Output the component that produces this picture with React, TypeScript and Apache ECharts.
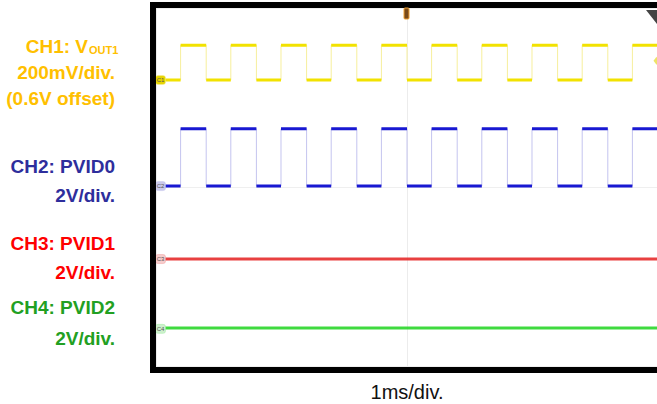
import React, { useEffect, useRef } from "react";
import * as echarts from "echarts";

// Horizontal: 10 divisions at 1 ms/div
const TIME_MIN = 0;
const TIME_MAX = 10;
const timeLabel = "1ms/div.";

// PVID0 toggle instants in ms (signal starts low); VOUT1 follows the same edges
const pvid0Edges = [
  0.49, 1.0, 1.49, 2.0, 2.49, 3.0, 3.49, 4.0, 4.49, 5.0,
  5.49, 6.0, 6.49, 7.0, 7.49, 8.0, 8.49, 9.0, 9.49,
];

// Levels (V): [low, high]
const ch1Levels = [0.6, 0.756];
const ch2Levels = [0, 2.56];
const ch3Level = 0;
const ch4Level = 0.04;
const ch1TriggerLevel = 0.686;

// Per-channel vertical settings (8 divisions on screen)
const voltsPerDiv = [0.2, 2, 2, 2];
const refPositionDiv = [6.39, 4.02, 2.39, 0.83]; // marker height above bottom, in divisions
const refVolts = [0.6, 0, 0, 0]; // CH1 carries a 0.6 V offset
const markerNames = ["C1", "C2", "C3", "C4"];

const labelTitles = ["CH1: V", "CH2: PVID0", "CH3: PVID1", "CH4: PVID2"];
const labelScales = ["200mV/div.", "2V/div.", "2V/div.", "2V/div."];

const traceColors = ["#f2e200", "#1818d2", "#e62b2b", "#2ad62a"];
const edgeColors = ["#f7ef9c", "#c4c4ef", "#f3a0a0", "#a0eca0"];
const labelColors = ["#ffc000", "#2e2e9c", "#ff0000", "#22a022"];
const markerFills = ["#e6d400", "#c9c9ec", "#f6cccc", "#cdf0cd"];

const FONT = "'Liberation Sans', Arial, sans-serif";

type Pt = [number, number] | null;

function stepPoints(edges: number[], lo: number, hi: number): Pt[] {
  const pts: Pt[] = [[TIME_MIN, lo]];
  let v = lo;
  for (const t of edges) {
    pts.push([t, v]);
    v = v === lo ? hi : lo;
    pts.push([t, v]);
  }
  pts.push([TIME_MAX, v]);
  return pts;
}

function plateaus(edges: number[], lo: number, hi: number): Pt[] {
  const pts: Pt[] = [];
  let v = lo;
  let start = TIME_MIN;
  for (const t of edges) {
    pts.push([start, v], [t, v], null);
    v = v === lo ? hi : lo;
    start = t;
  }
  pts.push([start, v], [TIME_MAX, v]);
  return pts;
}

function channelAxis(i: number) {
  const min = refVolts[i] - refPositionDiv[i] * voltsPerDiv[i];
  const max = refVolts[i] + (8 - refPositionDiv[i]) * voltsPerDiv[i];
  return {
    type: "value",
    min,
    max,
    show: false,
    splitLine: { show: false },
  };
}

function marker(i: number) {
  return {
    silent: true,
    symbol: "roundRect",
    symbolSize: [10, 9],
    itemStyle: { color: markerFills[i], borderColor: edgeColors[i], borderWidth: 0.5 },
    label: {
      show: true,
      position: "inside",
      formatter: markerNames[i],
      fontSize: 6,
      color: "#555",
      fontFamily: FONT,
    },
    data: [{ coord: [0.09, refVolts[i]] }],
  };
}

export default function App() {
  const ref = useRef<HTMLDivElement>(null);

  useEffect(() => {
    if (!ref.current) return;
    const chart = echarts.init(ref.current, undefined, { renderer: "svg" });

    const levels: [number, number][] = [
      [ch1Levels[0], ch1Levels[1]],
      [ch2Levels[0], ch2Levels[1]],
    ];

    const series: any[] = [];
    // Switching channels: faint fast edges plus bold settled levels
    levels.forEach(([lo, hi], i) => {
      series.push({
        type: "line",
        xAxisIndex: 0,
        yAxisIndex: i + 1,
        data: stepPoints(pvid0Edges, lo, hi),
        showSymbol: false,
        silent: true,
        lineStyle: { color: edgeColors[i], width: 1 },
        z: 2,
      });
      series.push({
        type: "line",
        xAxisIndex: 0,
        yAxisIndex: i + 1,
        data: plateaus(pvid0Edges, lo, hi),
        connectNulls: false,
        showSymbol: false,
        silent: true,
        lineStyle: { color: traceColors[i], width: 3 },
        markPoint: marker(i),
        z: 3,
      });
    });
    // Static channels
    [ch3Level, ch4Level].forEach((v, k) => {
      const i = k + 2;
      series.push({
        type: "line",
        xAxisIndex: 0,
        yAxisIndex: i + 1,
        data: [
          [TIME_MIN, v],
          [TIME_MAX, v],
        ],
        showSymbol: false,
        silent: true,
        lineStyle: { color: traceColors[i], width: 3, opacity: 0.9 },
        markPoint: marker(i),
        z: 3,
      });
    });
    // Trigger level indicator on the right edge (CH1)
    series.push({
      type: "scatter",
      xAxisIndex: 0,
      yAxisIndex: 1,
      data: [[9.97, ch1TriggerLevel]],
      symbol: "diamond",
      symbolSize: [6, 8],
      itemStyle: { color: "#e8dc40" },
      silent: true,
      z: 4,
    });

    const labelGraphics: any[] = [];
    const titleY = [46, 166, 243, 307];
    const scaleY = [72, 195, 272, 338];
    labelTitles.forEach((t, i) => {
      labelGraphics.push({
        type: "text",
        x: i === 0 ? 88 : 115,
        y: titleY[i],
        style: {
          text: t,
          align: "right",
          verticalAlign: "middle",
          fill: labelColors[i],
          font: `bold 19px ${FONT}`,
        },
      });
      labelGraphics.push({
        type: "text",
        x: 115,
        y: scaleY[i],
        style: {
          text: labelScales[i],
          align: "right",
          verticalAlign: "middle",
          fill: labelColors[i],
          font: `bold 19px ${FONT}`,
        },
      });
    });
    // subscript of VOUT1
    labelGraphics.push({
      type: "text",
      x: 89,
      y: 50,
      style: {
        text: "OUT1",
        align: "left",
        verticalAlign: "middle",
        fill: labelColors[0],
        font: `bold 11px ${FONT}`,
      },
    });
    labelGraphics.push({
      type: "text",
      x: 115,
      y: 98,
      style: {
        text: "(0.6V offset)",
        align: "right",
        verticalAlign: "middle",
        fill: labelColors[0],
        font: `bold 19px ${FONT}`,
      },
    });
    labelGraphics.push({
      type: "text",
      x: 407,
      y: 392,
      style: {
        text: timeLabel,
        align: "center",
        verticalAlign: "middle",
        fill: "#111",
        font: `20px ${FONT}`,
      },
    });

    chart.setOption({
      animation: false,
      backgroundColor: "#ffffff",
      grid: {
        left: 156,
        top: 8,
        width: 502,
        height: 358,
        containLabel: false,
        outerBoundsMode: "none",
      },
      xAxis: {
        type: "value",
        min: TIME_MIN,
        max: TIME_MAX,
        interval: 5,
        axisLine: { show: false },
        axisTick: { show: false },
        axisLabel: { show: false },
        splitLine: { show: true, lineStyle: { color: "#ececec", width: 1 } },
      },
      yAxis: [
        {
          type: "value",
          min: 0,
          max: 8,
          interval: 4,
          axisLine: { show: false },
          axisTick: { show: false },
          axisLabel: { show: false },
          splitLine: { show: true, lineStyle: { color: "#efefef", width: 1 } },
        },
        channelAxis(0),
        channelAxis(1),
        channelAxis(2),
        channelAxis(3),
      ],
      series,
      graphic: [
        ...labelGraphics,
        // screen bezel
        {
          type: "rect",
          shape: { x: 153, y: 5, width: 520, height: 365 },
          style: { fill: "none", stroke: "#000", lineWidth: 6 },
          z: 100,
          silent: true,
        },
        // trigger position marker
        {
          type: "rect",
          shape: { x: 404, y: 8, width: 5, height: 11, r: 1 },
          style: { fill: "#7a4a1a", stroke: "#f0a030", lineWidth: 1 },
          z: 101,
          silent: true,
        },
        // corner indicator
        {
          type: "polygon",
          shape: { points: [[646, 10], [657, 10], [657, 24]] },
          style: { fill: "#444" },
          z: 101,
          silent: true,
        },
      ],
    });

    return () => chart.dispose();
  }, []);

  return (
    <div
      ref={ref}
      style={{
        position: "absolute",
        left: 0,
        top: 0,
        width: 657,
        height: 404,
        background: "#fff",
      }}
    />
  );
}
